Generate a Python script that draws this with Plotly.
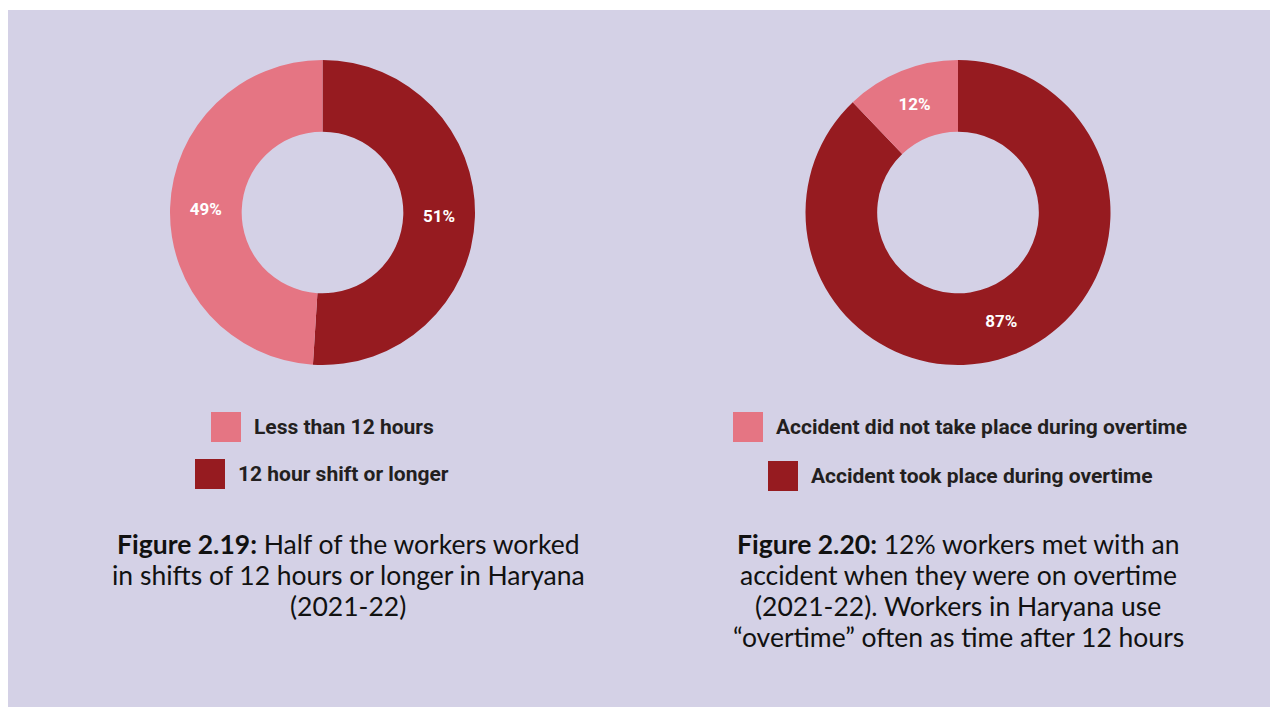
import plotly.graph_objects as go

W, H = 1278, 707
OFF = 8  # page body margin offset

# Data
fig1_labels = ["12 hour shift or longer", "Less than 12 hours"]
fig1_values = [51, 49]
fig2_labels = ["Accident took place during overtime", "Accident did not take place during overtime"]
fig2_values = [87, 12]

DARK = "#961b20"
PINK = "#e57583"
BG = "#d4d1e6"
TXT = "#231f20"

caption1_lines = ["<b>Figure 2.19:</b> Half of the workers worked",
                  "in shifts of 12 hours or longer in Haryana",
                  "(2021-22)"]
caption2_lines = ["<b>Figure 2.20:</b> 12% workers met with an",
                  "accident when they were on overtime",
                  "(2021-22). Workers in Haryana use",
                  "\u201covertime\u201d often as time after 12 hours"]


def px(x):
    return (x - OFF) / W


def py(y):
    return 1 - (y - OFF) / H


fig = go.Figure()

R = 152.5
CY = 212.5
for labels, values, cx in [(fig1_labels, fig1_values, 322.5), (fig2_labels, fig2_values, 958.0)]:
    fig.add_trace(go.Pie(
        labels=labels, values=values,
        marker=dict(colors=[DARK, PINK], line=dict(width=0)),
        hole=0.53, sort=False, direction="clockwise", rotation=0,
        texttemplate="%{value}%", textposition="inside",
        insidetextorientation="horizontal",
        textfont=dict(family="Roboto", size=17, color="white", weight="bold"),
        domain=dict(x=[px(cx - R), px(cx + R)], y=[py(CY + R), py(CY - R)]),
        showlegend=False, hoverinfo="label+value",
    ))

# Background panel
shapes = [dict(type="rect", xref="paper", yref="paper", x0=0, x1=px(1274), y0=-0.05, y1=py(10),
               fillcolor=BG, line=dict(width=0), layer="below")]

# Custom legends: (square x0, square y0, label, colour)
legend_items = [
    (211, 412, fig1_labels[1], PINK),
    (195, 459, fig1_labels[0], DARK),
    (733, 412, fig2_labels[1], PINK),
    (768, 461, fig2_labels[0], DARK),
]
annotations = []
for x0, y0, lab, col in legend_items:
    shapes.append(dict(type="rect", xref="paper", yref="paper",
                       x0=px(x0), x1=px(x0 + 30), y0=py(y0 + 30), y1=py(y0),
                       fillcolor=col, line=dict(width=0)))
    annotations.append(dict(x=px(x0 + 41), y=py(y0 + 15), xref="paper", yref="paper",
                            text="<b>" + lab + "</b>", showarrow=False, xanchor="left", yanchor="middle",
                            font=dict(family="Roboto", size=21, color=TXT)))

for lines, cx in [(caption1_lines, 348), (caption2_lines, 958)]:
    for i, line in enumerate(lines):
        annotations.append(dict(x=px(cx), y=py(544 + 31 * i), xref="paper", yref="paper", text=line,
                                showarrow=False, xanchor="center", yanchor="middle", align="center",
                                font=dict(family="Lato", size=26.5, color="#111111")))

fig.update_layout(
    width=W, height=H, margin=dict(l=0, r=0, t=0, b=0),
    paper_bgcolor="white", plot_bgcolor="white",
    shapes=shapes, annotations=annotations,
)

fig.write_html("out.html")
